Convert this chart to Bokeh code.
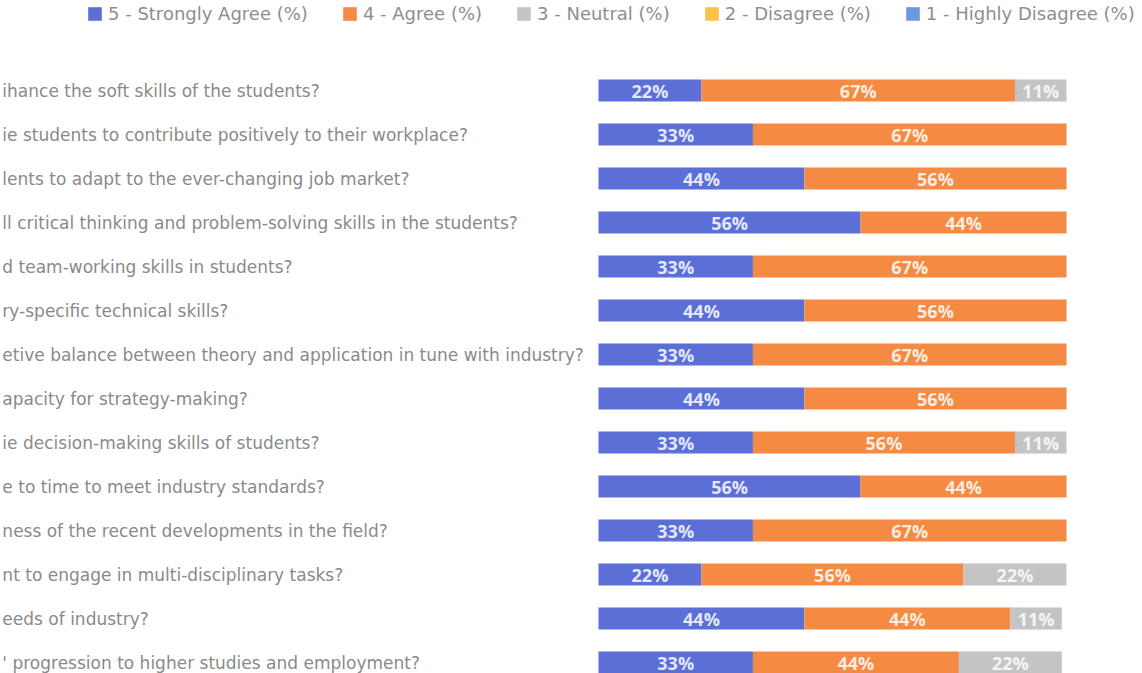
from bokeh.plotting import figure
from bokeh.models import Range1d, Legend, LegendItem, ColumnDataSource
from bokeh.core.properties import value
from bokeh.embed import file_html
from bokeh.resources import INLINE

questions = [
    "ihance the soft skills of the students?",
    "ie students to contribute positively to their workplace?",
    "lents to adapt to the ever-changing job market?",
    "ll critical thinking and problem-solving skills in the students?",
    "d team-working skills in students?",
    "ry-specific technical skills?",
    "etive balance between theory and application in tune with industry?",
    "apacity for strategy-making?",
    "ie decision-making skills of students?",
    "e to time to meet industry standards?",
    "ness of the recent developments in the field?",
    "nt to engage in multi-disciplinary tasks?",
    "eeds of industry?",
    "' progression to higher studies and employment?",
]
strongly_agree = [22, 33, 44, 56, 33, 44, 33, 44, 33, 56, 33, 22, 44, 33]
agree = [67, 67, 56, 44, 67, 56, 67, 56, 56, 44, 67, 56, 44, 44]
neutral = [11, 0, 0, 0, 0, 0, 0, 0, 11, 0, 0, 22, 11, 22]
disagree = [0] * 14
highly_disagree = [0] * 14

series_names = ["5 - Strongly Agree (%)", "4 - Agree (%)", "3 - Neutral (%)",
                "2 - Disagree (%)", "1 - Highly Disagree (%)"]
colors = ["#5b6fd6", "#f58a42", "#c4c4c4", "#fbc343", "#6b98e0"]

W, H = 1140, 673
x0_px, px_per = 598, 4.68
row0_px, row_px = 90, 44

p = figure(width=W, height=H, output_backend="svg", toolbar_location=None,
           x_range=Range1d(-x0_px / px_per, (W - x0_px) / px_per),
           y_range=Range1d(-row0_px / row_px + H / row_px, -row0_px / row_px),
           min_border=0, outline_line_color=None, background_fill_color="white")
p.axis.visible = False
p.grid.visible = False

rows = list(range(len(questions)))
data = dict(y=rows, s5=strongly_agree, s4=agree, s3=neutral, s2=disagree, s1=highly_disagree)
src = ColumnDataSource(data)
keys = ["s5", "s4", "s3", "s2", "s1"]
rends = p.hbar_stack(keys, y="y", height=0.5, color=colors, line_color=None, source=src)

# segment labels
lx, ly, lt = [], [], []
for i in rows:
    left = 0
    for vals in [strongly_agree, agree, neutral, disagree, highly_disagree]:
        v = vals[i]
        if v > 0:
            lx.append(left + v / 2)
            ly.append(i)
            lt.append(f"{v}%")
        left += v
p.text(x=lx, y=ly, text=lt, text_align="center", text_baseline="middle",
       text_color="white", text_alpha=0.85, text_font=value("Open Sans"),
       text_font_style="bold", text_font_size="18px")

# question labels
p.text(x=[-x0_px / px_per + 0.4] * len(rows), y=rows, text=questions,
       text_align="left", text_baseline="middle", text_color="#8a8a8a",
       text_font=value("DejaVu Sans"), text_font_size="17px")

legend = Legend(items=[LegendItem(label=n, renderers=[r]) for n, r in zip(series_names, rends)],
                orientation="horizontal", location=(86, H - 24),
                glyph_width=17, glyph_height=17, label_standoff=5, spacing=33,
                padding=0, margin=0, border_line_color=None, background_fill_alpha=0,
                label_text_font="DejaVu Sans", label_text_font_size="18px",
                label_text_color="#8e8e8e", label_height=18)
p.add_layout(legend)

open("out.html", "w").write(file_html(p, INLINE))
